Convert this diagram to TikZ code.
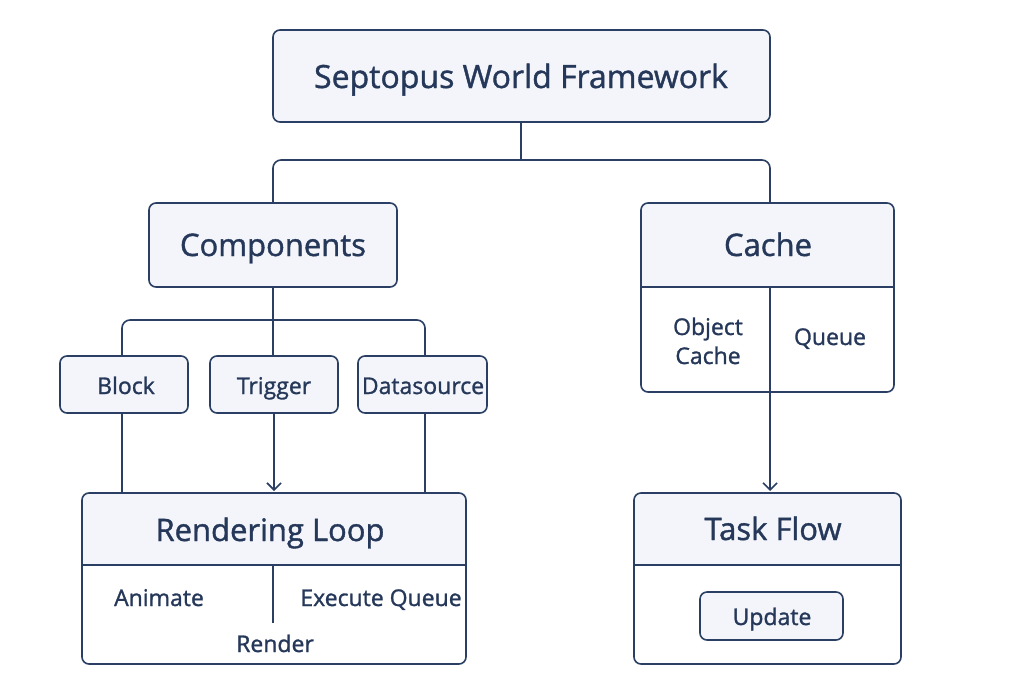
\documentclass[tikz,border=0pt]{standalone}
\usepackage{fontspec}
\setmainfont{Open Sans}
\newfontfamily\dfont{Open Sans}[FakeBold=1.2]
\usetikzlibrary{arrows.meta}
\definecolor{ink}{HTML}{2A3F63}
\definecolor{txt}{HTML}{26385A}
\definecolor{hdr}{HTML}{F3F5FA}
\tikzset{
  x=1pt,y=-1pt,
  box/.style={draw=ink,line width=1.6pt,rounded corners=7pt},
  hbox/.style={box,fill=hdr},
  conn/.style={draw=ink,line width=1.6pt,rounded corners=8pt},
  plain/.style={draw=ink,line width=1.6pt},
  arr/.style={plain,-{Straight Barb[length=7pt,width=14pt,line width=1.6pt]}},
  lbl/.style={text=txt,anchor=base,inner sep=0pt},
  big/.style={lbl,font=\dfont\fontsize{32}{36}\selectfont},
  mid/.style={lbl,font=\dfont\fontsize{31}{34}\selectfont},
  small/.style={lbl,font=\dfont\fontsize{23}{29}\selectfont,align=center},
}
\begin{document}
\begin{tikzpicture}
\useasboundingbox[fill=white] (0,0) rectangle (1024,683);
% title
\draw[hbox] (273,30) rectangle (770,122);
\node[big] (title) at (521,88) {Septopus World Framework};
\coordinate (tB) at (521,122);
% components
\draw[hbox] (149,203) rectangle (397,287);
\node[mid] (comp) at (273,256) {Components};
\coordinate (cT) at (273,203);
\coordinate (cB) at (273,287);
% cache
\begin{scope}
\clip[rounded corners=7pt] (641,203) rectangle (894,392);
\fill[hdr] (641,203) rectangle (894,287);
\end{scope}
\draw[box] (641,203) rectangle (894,392);
\draw[plain] (641,287) -- (894,287);
\draw[plain] (770,287) -- (770,392);
\node[mid] (cache) at (768,256) {Cache};
\node[small] (objc) at (708,364) {Object\\Cache};
\node[small] (queue) at (830,345) {Queue};
\coordinate (kT) at (770,203);
\coordinate (kB) at (770,392);
% children
\draw[hbox] (60,356) rectangle (188,413);
\node[small] (block) at (126,394) {Block};
\draw[hbox] (210,356) rectangle (338,413);
\node[small] (trig) at (274,394) {Trigger};
\draw[hbox] (358,356) rectangle (487,413);
\node[small] (data) at (423,394) {Datasource};
% rendering loop
\begin{scope}
\clip[rounded corners=7pt] (82,493) rectangle (466,664);
\fill[hdr] (82,493) rectangle (466,565);
\end{scope}
\draw[box] (82,493) rectangle (466,664);
\draw[plain] (82,565) -- (466,565);
\draw[plain] (273,565) -- (273,623);
\node[mid] (rl) at (270,541) {Rendering Loop};
\node[small] (anim) at (159,606) {Animate};
\node[small] (exq) at (381,606) {Execute Queue};
\node[small] (rend) at (275,652) {Render};
% task flow
\begin{scope}
\clip[rounded corners=7pt] (634,493) rectangle (901,664);
\fill[hdr] (634,493) rectangle (901,565);
\end{scope}
\draw[box] (634,493) rectangle (901,664);
\draw[plain] (634,565) -- (901,565);
\node[mid] (tf) at (773,540) {Task Flow};
\draw[hbox] (700,592) rectangle (843,640);
\node[small] (upd) at (772,625) {Update};
% connectors
\draw[plain] (tB) -- (521,160);
\draw[conn] (cT) |- (521,160) -| (kT);
\draw[plain] (cB) -- (273,356);
\draw[conn] (122,356) |- (273,320) -| (425,356);
\draw[plain] (122,413) -- (122,493);
\draw[arr] (274,413) -- (274,491);
\draw[plain] (425,413) -- (425,493);
\draw[arr] (kB) -- (770,491);
\end{tikzpicture}
\end{document}
